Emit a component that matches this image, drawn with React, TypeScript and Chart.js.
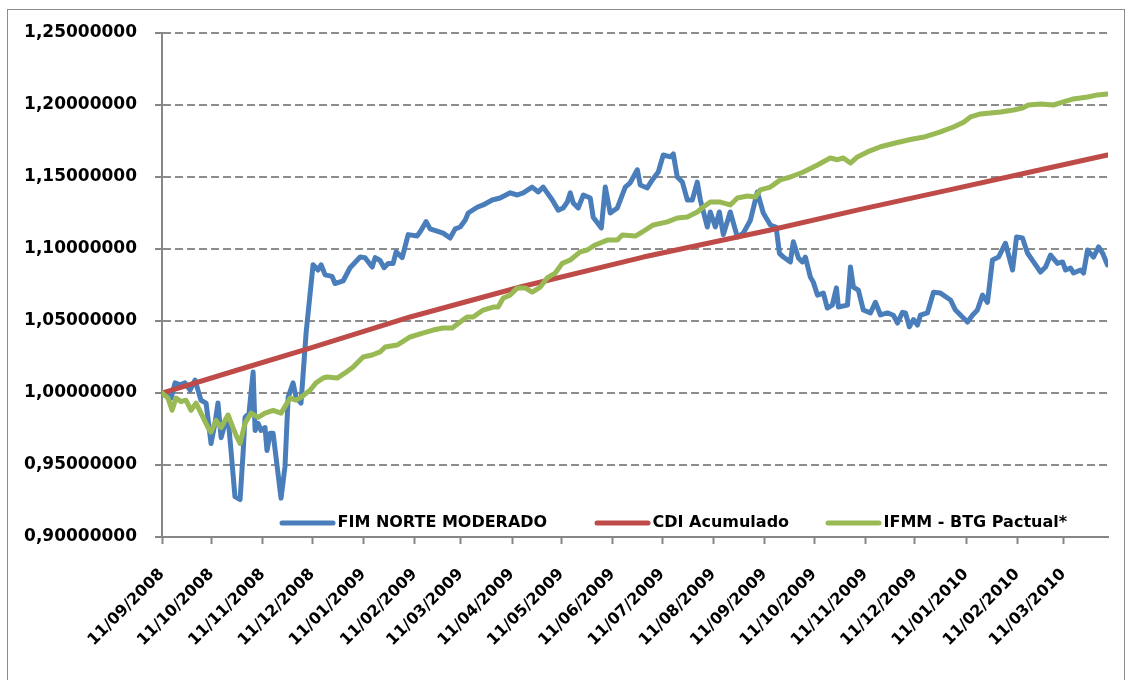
import React, { useEffect, useRef } from "react";
import { Chart, registerables } from "chart.js";

Chart.register(...registerables);

const seriesLabels = ["FIM NORTE MODERADO", "CDI Acumulado", "IFMM - BTG Pactual*"];
const seriesColors = ["#4A7EBB", "#BE4B48", "#98B954"];

const startDate = "11/09/2008";
const tickLabels = [
  "11/09/2008", "11/10/2008", "11/11/2008", "11/12/2008", "11/01/2009", "11/02/2009",
  "11/03/2009", "11/04/2009", "11/05/2009", "11/06/2009", "11/07/2009", "11/08/2009",
  "11/09/2009", "11/10/2009", "11/11/2009", "11/12/2009", "11/01/2010", "11/02/2010",
  "11/03/2010",
];
const lastDay = 573;
const yMin = 0.9;
const yMax = 1.25;
const yStep = 0.05;

// days since 11/09/2008
const fimDays = [
  0, 5.5, 7.9, 10.9, 13.9, 17, 20, 21.8, 23.6, 26.7, 29.7, 32.1, 33.9, 35.8, 38.2, 40, 41.8, 44.2,
  47.3, 49.1, 50.3, 52.7, 55.2, 56.4, 58.2, 60, 62.4, 63.6, 65.5, 67.3, 69.1, 72.1, 74.5, 76.4, 79.4,
  81.2, 84.2, 87.3, 91.5, 94.5, 96.4, 98.8, 103, 104.8, 109.7, 113.9, 120, 123, 127.3, 129.1, 132.1,
  134.5, 137, 140, 141.8, 145.5, 149.1, 154.5, 156.4, 160, 162.4, 170.3, 174.5, 177.6, 180.6, 183.6,
  185.5, 190.9, 194.5, 200, 204.8, 210.9, 215.2, 218.8, 224.2, 227.9, 230.9, 236.4, 240, 243, 245.5,
  247.3, 249.1, 252.1, 255.2, 259.4, 261.2, 266.1, 268.5, 271.5, 275.8, 280.6, 283.6, 287.9, 289.7,
  293.9, 297, 300.6, 303.6, 307.9, 309.7, 312.1, 315.2, 318.2, 321.2, 324.2, 326.1, 330.3, 332.1,
  335.2, 337.6, 340, 344.2, 348.5, 352.1, 356.4, 360.6, 364.2, 368.5, 372, 374, 376.4, 380.6, 382.4,
  385.5, 387.9, 389.7, 392.7, 394.5, 397, 400.6, 403, 406, 408.5, 409.7, 415.2, 417, 418.8, 421.8,
  424.8, 429.1, 432.1, 435.2, 439.4, 443, 445.5, 448.5, 450.3, 452.7, 455.2, 457.6, 459.4, 463.6,
  467.3, 471.5, 477.6, 480.6, 484.8, 487.9, 490.9, 493.9, 497, 500, 503, 506.7, 510.9, 515.2, 517.6,
  521.2, 524.2, 527.9, 532.1, 535.2, 538.2, 542.4, 545.5, 547.3, 550.3, 552.1, 556.4, 558.2, 560.6,
  564.2, 567.3, 569.7, 572.7,
];
const fimValues = [
  1.0, 0.9965, 1.007, 1.0056, 1.007, 1.002, 1.009, 1.002, 0.995, 0.993, 0.965, 0.979, 0.993, 0.969,
  0.979, 0.983, 0.96, 0.928, 0.926, 0.958, 0.983, 0.986, 1.0146, 0.974, 0.979, 0.974, 0.976, 0.96,
  0.972, 0.972, 0.955, 0.927, 0.949, 0.997, 1.007, 0.997, 0.993, 1.042, 1.089, 1.0854, 1.089, 1.082,
  1.081, 1.076, 1.0778, 1.087, 1.0944, 1.094, 1.0875, 1.094, 1.092, 1.087, 1.09, 1.09, 1.098, 1.094,
  1.11, 1.109, 1.112, 1.119, 1.114, 1.111, 1.1076, 1.114, 1.1153, 1.12, 1.125, 1.129, 1.1306, 1.134,
  1.1354, 1.139, 1.1375, 1.139, 1.143, 1.1396, 1.143, 1.134, 1.127, 1.1285, 1.1326, 1.139, 1.132,
  1.1285, 1.1375, 1.1354, 1.122, 1.1146, 1.143, 1.125, 1.1285, 1.143, 1.146, 1.155, 1.1444, 1.1424,
  1.148, 1.1535, 1.1653, 1.164, 1.166, 1.15, 1.1465, 1.134, 1.134, 1.1465, 1.134, 1.1153, 1.1257,
  1.1153, 1.1257, 1.11, 1.1257, 1.1083, 1.111, 1.12, 1.1396, 1.125, 1.1167, 1.115, 1.097, 1.0944,
  1.091, 1.105, 1.0937, 1.091, 1.0944, 1.0806, 1.077, 1.068, 1.0694, 1.059, 1.061, 1.073, 1.0597,
  1.061, 1.0875, 1.0736, 1.0715, 1.0576, 1.0556, 1.063, 1.0542, 1.0556, 1.054, 1.0486, 1.056, 1.0556,
  1.046, 1.051, 1.0472, 1.054, 1.0556, 1.07, 1.0694, 1.0646, 1.0576, 1.0528, 1.0493, 1.054, 1.0576,
  1.068, 1.063, 1.0924, 1.0944, 1.104, 1.0854, 1.1083, 1.1076, 1.0972, 1.091, 1.084, 1.0875, 1.0958,
  1.09, 1.091, 1.0854, 1.0868, 1.0833, 1.0854, 1.0833, 1.0993, 1.0944, 1.1014, 1.0972, 1.0889,
];

const cdiDays = [0, 47.3, 89.7, 150.3, 217, 291.5, 368.5, 423, 477.6, 526, 572.7];
const cdiValues = [1.0, 1.0165, 1.0312, 1.0528, 1.0736, 1.0944, 1.1132, 1.1275, 1.1412, 1.1535, 1.1653];

const ifmmDays = [
  0, 3.6, 6.1, 8.5, 11.5, 14.5, 17.6, 20.6, 23.6, 27.9, 29.7, 32.7, 35.8, 40, 43, 44.8, 47.3, 50.3,
  53.9, 58.2, 62.4, 67.3, 72.1, 77.6, 81.2, 84.2, 89.7, 93.3, 97.6, 100, 106.1, 110.9, 115.8, 121.8,
  127.3, 132.1, 135.2, 142.4, 150.3, 156.4, 164.2, 170.3, 175.8, 180.6, 184.8, 188.5, 194.5, 200.6,
  203.6, 206.7, 210.9, 215.2, 220, 224.2, 229.1, 233.3, 238.2, 242.4, 247.3, 253.3, 257.6, 262.4,
  269.7, 275.8, 278.8, 286.7, 290.9, 297.6, 306.1, 312.1, 318.2, 324.2, 327.9, 332.1, 338.2, 344.2,
  348.5, 354.5, 359.4, 362.4, 368.5, 374.5, 380.6, 388.5, 397, 404.8, 409.1, 412.7, 417, 421.2,
  427.3, 435.2, 444.2, 453.3, 462.4, 471.5, 479.4, 485.5, 489.7, 495.8, 501.8, 507.9, 515.8, 521.2,
  524.8, 532.1, 540, 546, 552.1, 560.6, 566.7, 572.7,
];
const ifmmValues = [
  1.0, 0.9965, 0.988, 0.9965, 0.994, 0.995, 0.988, 0.993, 0.986, 0.976, 0.9729, 0.981, 0.976, 0.9847,
  0.976, 0.9708, 0.965, 0.979, 0.986, 0.983, 0.986, 0.988, 0.986, 0.9965, 0.995, 0.997, 1.002, 1.007,
  1.0104, 1.0111, 1.0104, 1.0139, 1.018, 1.025, 1.0264, 1.0285, 1.032, 1.0333, 1.0389, 1.041, 1.0437,
  1.0451, 1.0451, 1.0493, 1.0528, 1.0528, 1.0576, 1.0597, 1.0597, 1.066, 1.068, 1.073, 1.073, 1.0701,
  1.0736, 1.0799, 1.0833, 1.09, 1.0924, 1.098, 1.0993, 1.1028, 1.1062, 1.1062, 1.1097, 1.109, 1.1118,
  1.1167, 1.1188, 1.1215, 1.1222, 1.1257, 1.1292, 1.1326, 1.1326, 1.1306, 1.1354, 1.1368, 1.1361,
  1.141, 1.143, 1.148, 1.15, 1.1535, 1.1583, 1.1632, 1.162, 1.1632, 1.1597, 1.1639, 1.1674, 1.171,
  1.1736, 1.176, 1.178, 1.1813, 1.1847, 1.188, 1.1917, 1.1938, 1.1944, 1.1951, 1.1965, 1.1979, 1.2,
  1.2007, 1.2, 1.2021, 1.2042, 1.2056, 1.207, 1.2076,
];

const legendOffsets = [118, 433, 664];

function parseDay(label: string): number {
  const [d, m, y] = label.split("/").map(Number);
  const [d0, m0, y0] = startDate.split("/").map(Number);
  return Math.round((Date.UTC(y, m - 1, d) - Date.UTC(y0, m0 - 1, d0)) / 86400000);
}

const tickDays = tickLabels.map(parseDay);

const toPoints = (xs: number[], ys: number[]) => xs.map((x, i) => ({ x, y: ys[i] }));

const FONT = '"DejaVu Sans", "Liberation Sans", sans-serif';

const legendPlugin = {
  id: "insideLegend",
  afterDraw(chart: any) {
    const { ctx, chartArea } = chart;
    const y = chartArea.bottom - 14;
    ctx.save();
    ctx.font = `bold 16px ${FONT}`;
    ctx.textBaseline = "middle";
    ctx.textAlign = "left";
    chart.data.datasets.forEach((ds: any, i: number) => {
      const x0 = chartArea.left + legendOffsets[i];
      ctx.strokeStyle = ds.borderColor;
      ctx.lineWidth = 5;
      ctx.lineCap = "round";
      ctx.beginPath();
      ctx.moveTo(x0 + 2, y);
      ctx.lineTo(x0 + 53, y);
      ctx.stroke();
      ctx.fillStyle = "#000000";
      ctx.fillText(ds.label, x0 + 57.5, y);
    });
    ctx.restore();
  },
};

export default function App() {
  const canvasRef = useRef<HTMLCanvasElement | null>(null);

  useEffect(() => {
    const canvas = canvasRef.current;
    if (!canvas) return;
    const series = [
      toPoints(fimDays, fimValues),
      toPoints(cdiDays, cdiValues),
      toPoints(ifmmDays, ifmmValues),
    ];
    const chart = new Chart(canvas, {
      type: "line",
      data: {
        datasets: series.map((pts, i) => ({
          label: seriesLabels[i],
          data: pts,
          borderColor: seriesColors[i],
          backgroundColor: seriesColors[i],
          borderWidth: 5,
          pointRadius: 0,
          tension: 0,
          borderJoinStyle: "round",
          borderCapStyle: "round",
          order: 2 - i,
        })),
      },
      options: {
        animation: false,
        responsive: false,
        maintainAspectRatio: false,
        devicePixelRatio: 1,
        layout: { padding: { top: 33, right: 25, left: 0, bottom: 0 } },
        plugins: { legend: { display: false }, tooltip: { enabled: false } },
        scales: {
          x: {
            type: "linear",
            min: 0,
            max: lastDay,
            afterBuildTicks: (scale: any) => {
              scale.ticks = tickDays.map((v) => ({ value: v }));
            },
            afterFit: (scale: any) => {
              scale.height = 143;
            },
            ticks: {
              autoSkip: false,
              minRotation: 45,
              maxRotation: 45,
              padding: 21,
              color: "#000000",
              font: { family: FONT, size: 16, weight: "bold" },
              callback: (value: any) => {
                const idx = tickDays.indexOf(Math.round(Number(value)));
                return idx >= 0 ? tickLabels[idx] : "";
              },
            },
            grid: {
              drawOnChartArea: false,
              drawTicks: true,
              tickLength: 7,
              tickColor: "#868686",
              tickWidth: 2,
              color: "#868686",
            },
            border: { display: true, color: "#868686", width: 2 },
          },
          y: {
            type: "linear",
            min: yMin,
            max: yMax,
            afterFit: (scale: any) => {
              scale.width = 162;
            },
            ticks: {
              stepSize: yStep,
              padding: 18,
              color: "#000000",
              font: { family: FONT, size: 17, weight: "bold" },
              callback: (value: any) => Number(value).toFixed(8).replace(".", ","),
            },
            grid: {
              color: "#8c8c8c",
              lineWidth: 2,
              drawTicks: true,
              tickLength: 7,
              tickColor: "#868686",
              tickWidth: 2,
              tickBorderDash: [1, 0],
            },
            border: { display: true, color: "#868686", width: 2, dash: [8, 4] },
          },
        },
      },
      plugins: [legendPlugin],
    } as any);
    return () => chart.destroy();
  }, []);

  return (
    <div
      style={{
        position: "absolute",
        left: 0,
        top: 0,
        width: 1133,
        height: 680,
        overflow: "hidden",
        background: "#ffffff",
      }}
    >
      <canvas
        ref={canvasRef}
        width={1133}
        height={680}
        style={{ position: "absolute", left: 0, top: 0, width: 1133, height: 680 }}
      />
      <div
        style={{
          position: "absolute",
          left: 7,
          top: 9,
          width: 1118,
          height: 700,
          border: "1px solid #8c8c8c",
          boxSizing: "border-box",
          pointerEvents: "none",
        }}
      />
    </div>
  );
}
